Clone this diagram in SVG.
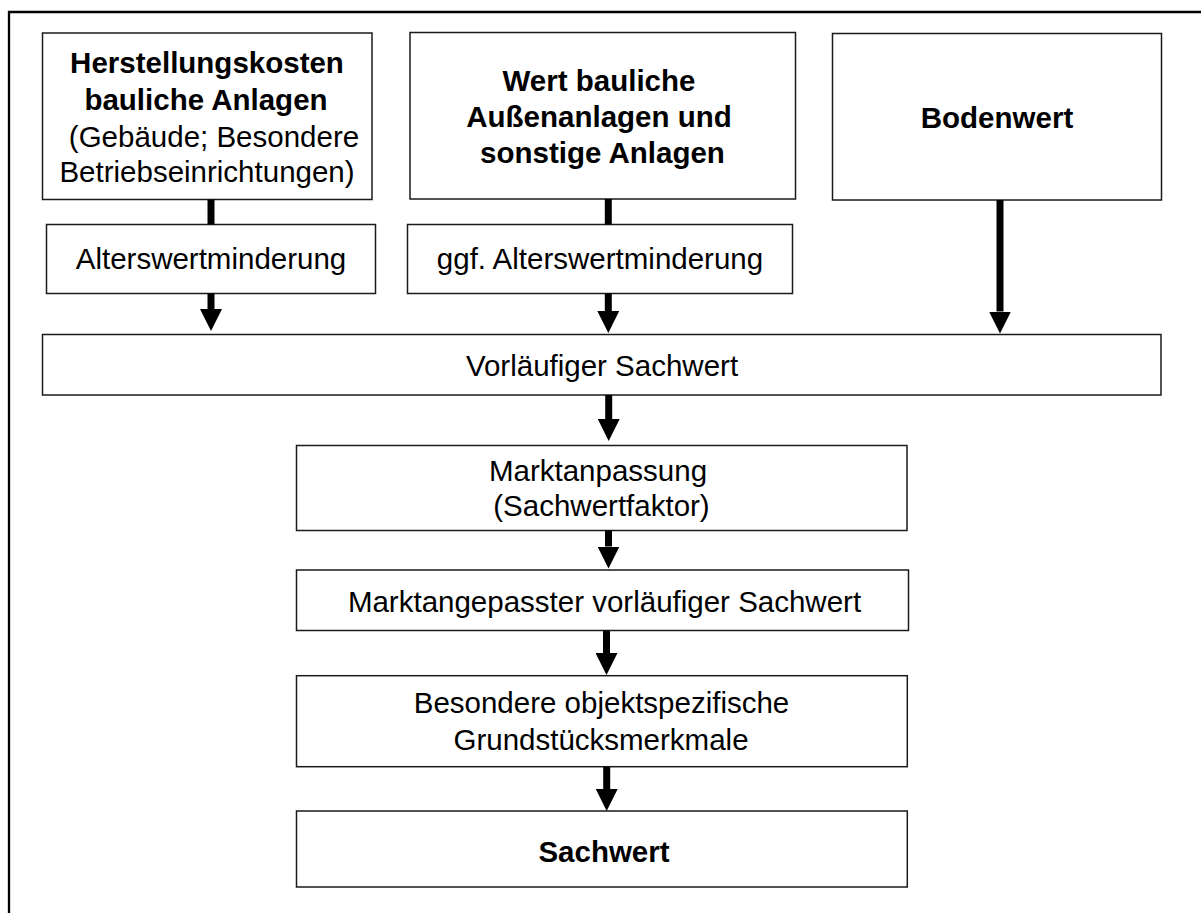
<svg xmlns="http://www.w3.org/2000/svg" width="1201" height="913" viewBox="0 0 1201 913">
<style>
.box{fill:#fff;stroke:#1a1a1a;stroke-width:1.5}
.t{font-family:"Liberation Sans",Arial,sans-serif;font-size:29.5px;fill:#000;text-anchor:middle}
.b{font-weight:bold}
.shaft{stroke:#000;stroke-width:7;fill:none}
</style>
<defs>
<marker id="ah" markerUnits="userSpaceOnUse" markerWidth="22" markerHeight="22" viewBox="0 0 22 22" refX="0" refY="11" orient="auto">
<path d="M0,0 L22,11 L0,22 Z" fill="#000"/>
</marker>
</defs>
<rect width="1201" height="913" fill="#fff"/>
<path d="M9,913 V12 H1201" fill="none" stroke="#000" stroke-width="2.3"/>

<g id="herstellungskosten">
<rect class="box" x="42.5" y="33" width="329.5" height="166.5"/>
<text class="t b" x="207" y="72.7">Herstellungskosten</text>
<text class="t b" x="206" y="110">bauliche Anlagen</text>
<text class="t" x="214" y="146.7">(Gebäude; Besondere</text>
<text class="t" x="207" y="181.7">Betriebseinrichtungen)</text>
</g>
<g id="aussenanlagen">
<rect class="box" x="410" y="32.5" width="385.5" height="166.5"/>
<text class="t b" x="599" y="90.7">Wert bauliche</text>
<text class="t b" x="599" y="126.7">Außenanlagen und</text>
<text class="t b" x="602.5" y="162.7">sonstige Anlagen</text>
</g>
<g id="bodenwert">
<rect class="box" x="832.5" y="33.5" width="329" height="166.5"/>
<text class="t b" x="997" y="128.3">Bodenwert</text>
</g>
<g id="alterswertminderung">
<rect class="box" x="46.5" y="224.5" width="329" height="69"/>
<text class="t" x="211" y="269.3">Alterswertminderung</text>
</g>
<g id="ggf-alterswertminderung">
<rect class="box" x="407.5" y="224.5" width="385" height="69"/>
<text class="t" x="600" y="269.3">ggf. Alterswertminderung</text>
</g>
<g id="vorlaeufiger-sachwert">
<rect class="box" x="42.5" y="334.5" width="1118.5" height="60.5"/>
<text class="t" x="602" y="376">Vorläufiger Sachwert</text>
</g>
<g id="marktanpassung">
<rect class="box" x="296.5" y="445.5" width="610.5" height="85"/>
<text class="t" x="598" y="481">Marktanpassung</text>
<text class="t" x="601.5" y="516">(Sachwertfaktor)</text>
</g>
<g id="marktangepasster-sachwert">
<rect class="box" x="296.5" y="570" width="612" height="60.5"/>
<text class="t" x="604.5" y="611.5">Marktangepasster vorläufiger Sachwert</text>
</g>
<g id="besondere-merkmale">
<rect class="box" x="296.5" y="675.7" width="610.8" height="91"/>
<text class="t" x="601.5" y="713.3">Besondere objektspezifische</text>
<text class="t" x="601" y="750">Grundstücksmerkmale</text>
</g>
<g id="sachwert">
<rect class="box" x="296.5" y="811" width="610.8" height="76"/>
<text class="t b" x="604" y="861.5">Sachwert</text>
</g>

<g id="connectors">
<line class="shaft" x1="211" y1="199.5" x2="211" y2="224.5"/>
<line class="shaft" x1="211" y1="293.5" x2="211" y2="309" marker-end="url(#ah)"/>
<line class="shaft" x1="608.3" y1="199" x2="608.3" y2="224.5"/>
<line class="shaft" x1="608.3" y1="293.5" x2="608.3" y2="311" marker-end="url(#ah)"/>
<line class="shaft" x1="1000" y1="200" x2="1000" y2="311.5" marker-end="url(#ah)"/>
<line class="shaft" x1="608.7" y1="395" x2="608.7" y2="419" marker-end="url(#ah)"/>
<line class="shaft" x1="608.5" y1="530.5" x2="608.5" y2="546.5" marker-end="url(#ah)"/>
<line class="shaft" x1="606.5" y1="630.5" x2="606.5" y2="653" marker-end="url(#ah)"/>
<line class="shaft" x1="606.7" y1="766.7" x2="606.7" y2="789" marker-end="url(#ah)"/>
</g>
</svg>
